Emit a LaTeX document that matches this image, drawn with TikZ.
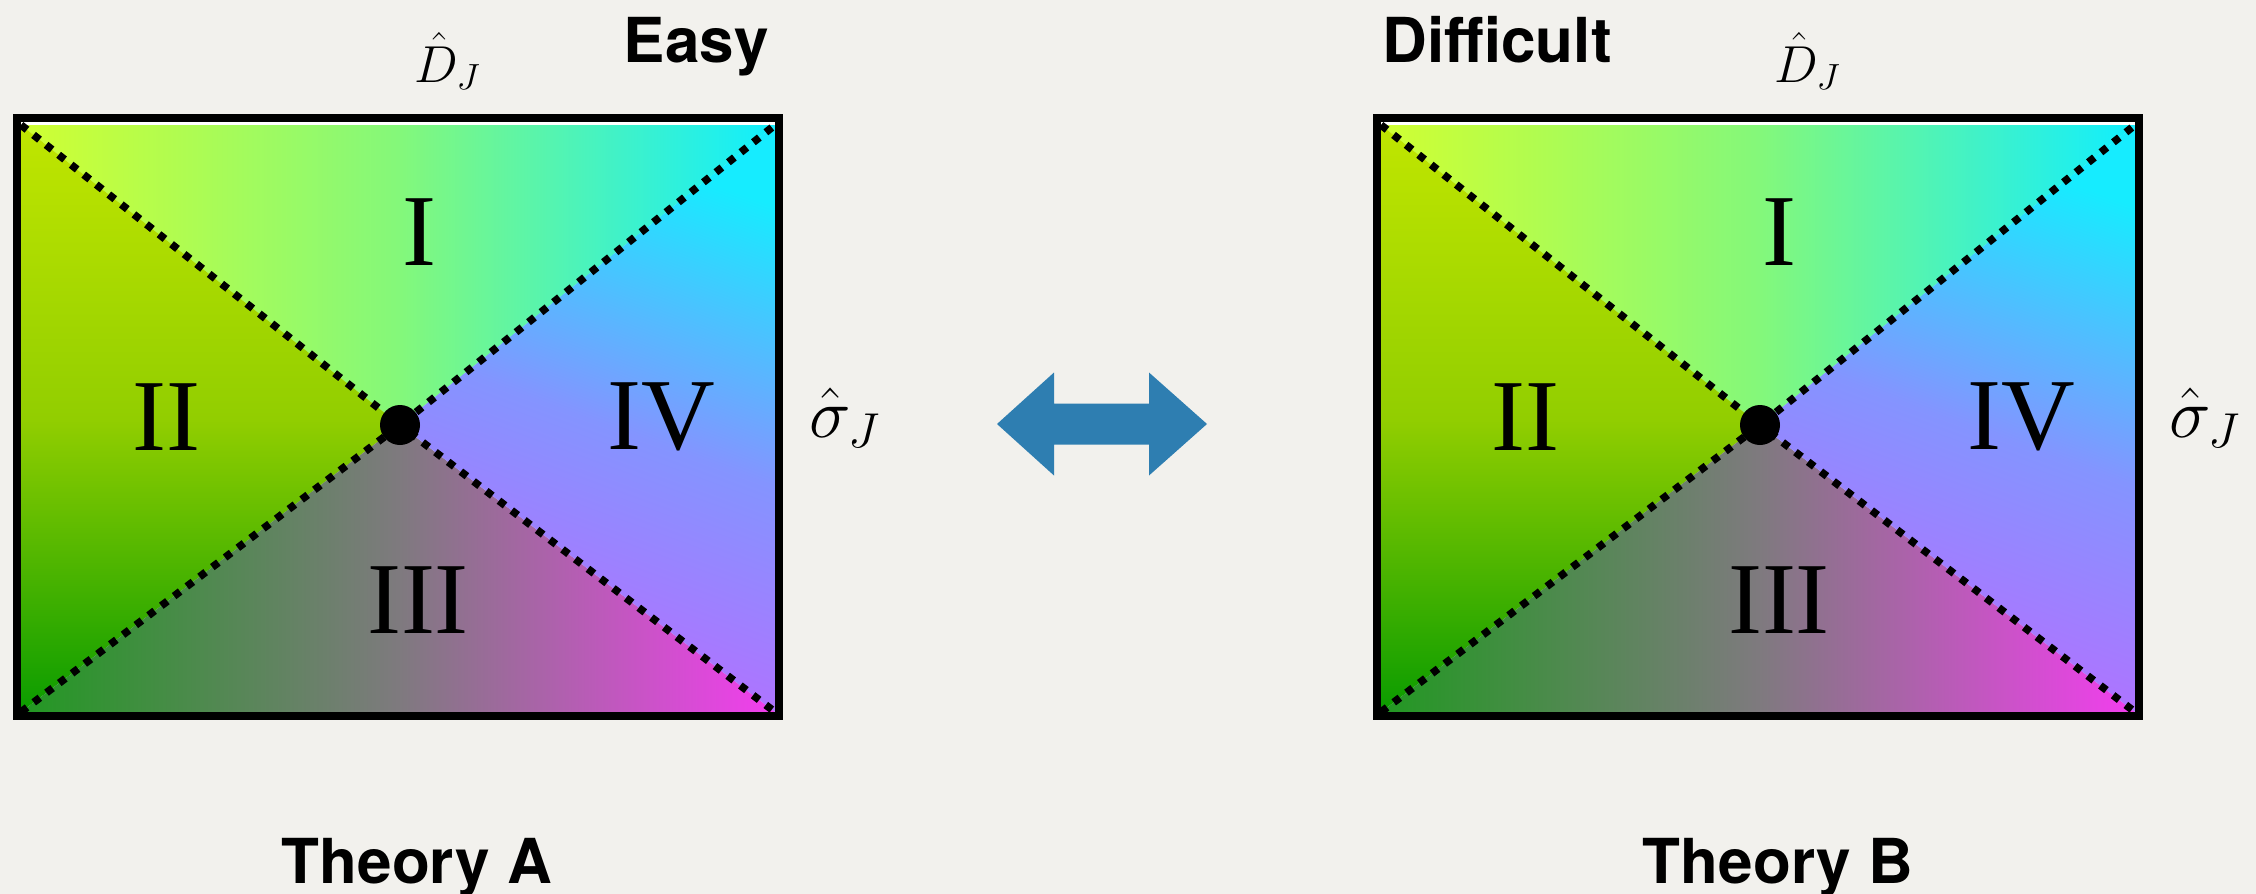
\RequirePackage{fix-cm}
\documentclass[tikz,border=0pt]{standalone}
\usepackage{fontspec}
\usepackage{xcolor}
\usepackage{tikz}
\usetikzlibrary{calc}
\newfontfamily\headfont{TeX Gyre Heros}
\newfontfamily\romanfont{Liberation Serif}

\definecolor{paper}{RGB}{242,241,237}
\definecolor{swapblue}{RGB}{46,126,177}
\definecolor{oneleft}{RGB}{208,255,50}
\definecolor{onemid}{RGB}{132,248,122}
\definecolor{oneright}{RGB}{16,238,255}
\definecolor{twotop}{RGB}{192,230,0}
\definecolor{twomid}{RGB}{146,206,0}
\definecolor{twobot}{RGB}{10,156,0}
\definecolor{threeleft}{RGB}{34,152,34}
\definecolor{threemid}{RGB}{126,122,126}
\definecolor{threeright}{RGB}{242,62,238}
\definecolor{fourtop}{RGB}{22,236,255}
\definecolor{fourmid}{RGB}{132,148,255}
\definecolor{fourbot}{RGB}{184,108,255}

\tikzset{
    frame/.style={draw=black, line width=4pt},
    diag/.style={line width=3.8pt, dash pattern=on 3.8pt off 4.2pt},
    crossdot/.style={circle, fill=black, inner sep=0pt, minimum size=20pt},
    region/.style={inner sep=0pt, font=\romanfont\fontsize{51}{51}\selectfont},
    heading/.style={inner sep=0pt, font=\headfont\bfseries\fontsize{31}{37}\selectfont},
    dlabel/.style={inner sep=0pt, font=\fontsize{26}{30}\selectfont},
    slabel/.style={inner sep=0pt, font=\fontsize{35}{40}\selectfont},
    shadeI/.style={left color=oneleft, right color=oneright, middle color=onemid},
    shadeII/.style={top color=twotop, bottom color=twobot, middle color=twomid},
    shadeIII/.style={left color=threeleft, right color=threeright, middle color=threemid},
    shadeIV/.style={top color=fourtop, bottom color=fourbot, middle color=fourmid, shading angle=-20},
}

\begin{document}
\begin{tikzpicture}[x=0.5pt, y=-0.5pt]

% === CANVAS ===
\fill[paper] (0,0) rectangle (2256,894);
\useasboundingbox (0,0) rectangle (2256,894);

% === THEORY A (left box) ===
\coordinate (tlA) at (21,125);
\coordinate (trA) at (775,125);
\coordinate (brA) at (775,712);
\coordinate (blA) at (21,712);
\coordinate (cA) at (400,425);

\fill[white] (21,121) rectangle (775,125);
\shade[shadeI] (tlA) -- (trA) -- (cA) -- cycle;
\shade[shadeII] (tlA) -- (cA) -- (blA) -- cycle;
\shade[shadeIII] (blA) -- (cA) -- (brA) -- cycle;
\shade[shadeIV] (trA) -- (brA) -- (cA) -- cycle;

\draw[diag] (tlA) -- (cA) -- (brA);
\draw[diag] (blA) -- (cA) -- (trA);
\draw[frame] (17,118) rectangle (779,716);
\node[crossdot] (dotA) at (cA) {};

\node[region] (IA) at (419,232) {I};
\node[region] (IIA) at (166,417) {II};
\node[region] (IIIA) at (418,600) {III};
\node[region] (IVA) at (661,417) {IV};

\node[dlabel, anchor=base west] (dhatA) at (414,82) {$\hat{D}_J$};
\node[slabel, anchor=base west] (shatA) at (809,437) {$\hat{\sigma}_J$};
\node[heading, anchor=base east] (easy) at (769,62) {Easy};
\node[heading, anchor=base] (theoryA) at (417,883) {Theory A};

% === THEORY B (right box) ===
\coordinate (tlB) at (1381,125);
\coordinate (trB) at (2135,125);
\coordinate (brB) at (2135,712);
\coordinate (blB) at (1381,712);
\coordinate (cB) at (1760,425);

\fill[white] (1381,121) rectangle (2135,125);
\shade[shadeI] (tlB) -- (trB) -- (cB) -- cycle;
\shade[shadeII] (tlB) -- (cB) -- (blB) -- cycle;
\shade[shadeIII] (blB) -- (cB) -- (brB) -- cycle;
\shade[shadeIV] (trB) -- (brB) -- (cB) -- cycle;

\draw[diag] (tlB) -- (cB) -- (brB);
\draw[diag] (blB) -- (cB) -- (trB);
\draw[frame] (1377,118) rectangle (2139,716);
\node[crossdot] (dotB) at (cB) {};

\node[region] (IB) at (1779,232) {I};
\node[region] (IIB) at (1525,417) {II};
\node[region] (IIIB) at (1779,600) {III};
\node[region] (IVB) at (2021,417) {IV};

\node[dlabel, anchor=base west] (dhatB) at (1774,82) {$\hat{D}_J$};
\node[slabel, anchor=base west] (shatB) at (2169,437) {$\hat{\sigma}_J$};
\node[heading, anchor=base west] (difficult) at (1382,62) {Difficult};
\node[heading, anchor=base] (theoryB) at (1778,883) {Theory B};

% === DUALITY ARROW ===
\coordinate (swap) at (1102,424);
\begin{scope}[shift={(swap)}]
\fill[swapblue] (-105,0) -- (-48,-51.5) -- (-48,-20.5) -- (47,-20.5) -- (47,-51.5)
    -- (105,0) -- (47,51.5) -- (47,20.5) -- (-48,20.5) -- (-48,51.5) -- cycle;
\end{scope}

\end{tikzpicture}
\end{document}
